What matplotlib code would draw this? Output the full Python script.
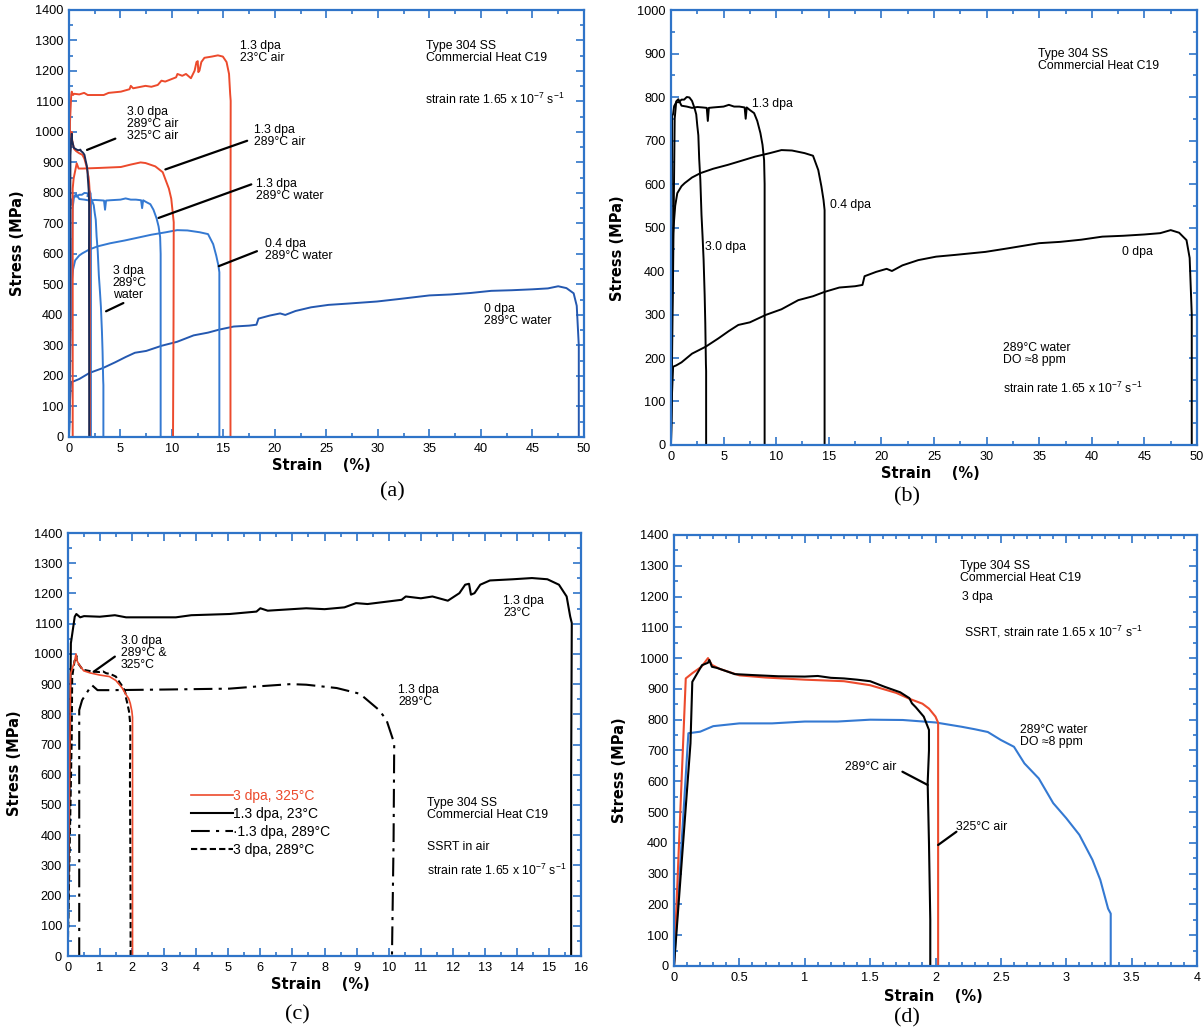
"""Stress-strain curves of irradiated Type 304 SS (heat C19), four panels."""

import matplotlib
matplotlib.use("Agg")
import matplotlib.pyplot as plt
from matplotlib.ticker import FuncFormatter, MultipleLocator

plt.rcParams["font.family"] = ["Liberation Sans", "DejaVu Sans"]

# --- curve data (strain %, stress MPa) -----------------------------------

# 1.3 dpa, 23 C air
strain_13_23c = [0, 0.05, 0.1, 0.22, 0.27, 0.39, 0.51, 1.0, 1.47, 1.82, 2.66,
                 3.37, 3.85, 5.04, 5.88, 6.0, 6.23, 7.43, 8.0, 8.62, 8.98,
                 9.34, 10.4, 10.53, 11.0, 11.36, 11.84, 12.2, 12.38, 12.5,
                 12.56, 12.67, 12.85, 13.15, 13.87, 14.46, 14.94, 15.3,
                 15.54, 15.65, 15.7, 15.68, 15.68]
stress_13_23c = [0, 450, 1035, 1123, 1132, 1121, 1125, 1123, 1128, 1121, 1121,
                 1121, 1128, 1132, 1140, 1151, 1143, 1151, 1148, 1154, 1168,
                 1165, 1179, 1190, 1184, 1190, 1176, 1201, 1229, 1232,
                 1196, 1201, 1229, 1243, 1247, 1251, 1247, 1229,
                 1190, 1124, 1102, 600, 0]

# 1.3 dpa, 289 C air
strain_13_289c_air = [0.36, 0.36, 0.45, 0.75, 0.93, 1.37, 3.0, 5.04, 6.0,
                      6.95, 7.43, 8.38, 9.1, 9.7, 9.93, 10.17, 10.15, 10.1]
stress_13_289c_air = [0, 814, 847, 897, 880, 880, 882, 885, 893,
                      900, 898, 887, 868, 814, 781, 704, 380, 0]

# 3 dpa, 289 C air
strain_3_289c_air = [0, 0.126, 0.14, 0.17, 0.214, 0.26, 0.27, 0.29, 0.33,
                     0.377, 0.465, 0.6, 0.8, 1.0, 1.1, 1.2, 1.3, 1.4, 1.5,
                     1.61, 1.73, 1.8, 1.82, 1.85, 1.91, 1.95, 1.95, 1.94,
                     1.95, 1.96, 1.96]
stress_3_289c_air = [0, 723, 923, 945, 977, 985, 994, 972, 968,
                     961, 948, 945, 941, 940, 942, 936, 934, 930, 925,
                     907, 889, 870, 853, 840, 810, 767, 700, 594,
                     400, 150, 0]

# 3 dpa, 325 C air
strain_3_325c_air = [0, 0.09, 0.14, 0.21, 0.26, 0.29, 0.35, 0.5, 0.7, 1.0,
                     1.3, 1.5, 1.7, 1.8, 1.9, 1.95, 2.0, 2.02, 2.02]
stress_3_325c_air = [0, 934, 951, 972, 1000, 978, 965, 944, 937, 930,
                     925, 912, 887, 868, 852, 836, 810, 790, 0]

# 3 dpa, 289 C water
strain_3_water = [0, 0.11, 0.2, 0.3, 0.5, 0.75, 1.0, 1.25, 1.5, 1.75, 2.0,
                  2.2, 2.3, 2.4, 2.5, 2.6, 2.68, 2.79, 2.9, 3.0, 3.1, 3.2,
                  3.26, 3.32, 3.34, 3.34]
stress_3_water = [0, 756, 761, 779, 788, 788, 794, 794, 800, 799, 791,
                  777, 769, 760, 734, 712, 658, 609, 529, 480, 426, 345,
                  280, 186, 170, 0]
# second short 3 dpa water trace seen only in panel (a)
strain_3_water_b = [1.8, 2.0, 2.1, 2.13, 2.13]
stress_3_water_b = [790, 806, 798, 770, 0]

# 1.3 dpa, 289 C water
strain_13_water = [0, 0.2, 0.35, 0.5, 0.7, 1.0, 1.5, 2.0, 2.5, 3.0, 3.4,
                   3.5, 3.6, 4.0, 5.0, 5.5, 6.0, 6.5, 7.0, 7.1, 7.2, 7.5,
                   7.9, 8.2, 8.5, 8.7, 8.85, 8.9, 8.9]
stress_13_water = [0, 400, 750, 790, 795, 780, 778, 775, 777, 776, 775,
                   745, 775, 776, 778, 782, 778, 778, 776, 750, 776, 770,
                   763, 745, 717, 690, 655, 600, 0]

# 0.4 dpa, 289 C water
strain_04_water = [0, 0.1, 0.2, 0.4, 0.6, 1.0, 1.3, 2.0, 2.8, 4.0, 5.4,
                   6.5, 8.0, 9.4, 10.5, 11.5, 12.7, 13.5, 14.0, 14.3, 14.5,
                   14.6, 14.6]
stress_04_water = [0, 300, 487, 550, 579, 595, 602, 615, 625, 635, 644,
                   652, 663, 671, 678, 677, 671, 665, 632, 594, 563,
                   540, 0]

# 0 dpa, 289 C water
strain_0_water = [0, 0.1, 0.2, 0.5, 1.0, 1.5, 2.0, 3.3, 4.5, 5.5, 6.4, 7.5,
                  9.0, 10.5, 12.1, 13.5, 14.6, 16.0, 17.5, 18.2, 18.4, 19.5,
                  20.5, 21.0, 22.0, 23.5, 25.2, 27.0, 29.9, 32.0, 33.5,
                  35.0, 37.0, 39.0, 41.0, 43.0, 45.0, 46.5, 47.5, 48.3,
                  49.0, 49.3, 49.5, 49.5]
stress_0_water = [0, 120, 180, 183, 190, 200, 210, 226, 245, 262, 276, 282,
                  299, 312, 333, 342, 352, 362, 365, 368, 388, 398,
                  405, 400, 413, 425, 433, 437, 444, 452, 458,
                  464, 467, 472, 479, 481, 484, 487, 494, 488,
                  471, 430, 300, 0]

RATE = "strain rate 1.65 x 10$^{\\mathregular{-7}}$ s$^{\\mathregular{-1}}$"
HEAT = "Type 304 SS\nCommercial Heat C19"

FRAME = "#2f74c8"
RED = "#ec4a2c"
BLUE = "#3479d2"
DARK_BLUE = "#2458b0"
NAVY = "#1c2a55"
TXT = 8.8


def style_axes(ax, xmax, ymax, xmaj, xmin, ymaj=100, ymin=50):
    """Blue frame with inward ticks on all four sides."""
    ax.set_xlim(0, xmax)
    ax.set_ylim(0, ymax)
    ax.xaxis.set_major_locator(MultipleLocator(xmaj))
    ax.xaxis.set_minor_locator(MultipleLocator(xmin))
    ax.yaxis.set_major_locator(MultipleLocator(ymaj))
    ax.yaxis.set_minor_locator(MultipleLocator(ymin))
    ax.xaxis.set_major_formatter(FuncFormatter(lambda v, p: f"{v:g}"))
    for sp in ax.spines.values():
        sp.set_color(FRAME)
        sp.set_linewidth(1.6)
    ax.tick_params(which="both", direction="in", top=True, right=True,
                   color=FRAME, labelcolor="black", width=1.2,
                   labelsize=9.2, pad=4)
    ax.tick_params(which="major", length=6)
    ax.tick_params(which="minor", length=3)
    ax.set_xlabel("Strain    (%)", family="DejaVu Sans", weight="bold",
                  fontsize=10.5)
    ax.set_ylabel("Stress (MPa)", family="DejaVu Sans", weight="bold",
                  fontsize=10.5)


def note(ax, x, y, s, va="top", **kw):
    ax.text(x, y, s, fontsize=TXT, va=va, ha="left", linespacing=1.0, **kw)


def leader(ax, start, end):
    ax.annotate("", xy=end, xytext=start,
                arrowprops=dict(arrowstyle="-", color="black", lw=1.6,
                                shrinkA=0, shrinkB=0))


def panel_a(ax):
    lw = 1.4
    ax.plot(strain_0_water, stress_0_water, color=DARK_BLUE, lw=lw)
    ax.plot(strain_04_water, stress_04_water, color=BLUE, lw=lw)
    ax.plot(strain_13_water, stress_13_water, color=BLUE, lw=lw)
    ax.plot(strain_3_water, stress_3_water, color=BLUE, lw=lw)
    ax.plot(strain_3_water_b, stress_3_water_b, color=BLUE, lw=lw)
    ax.plot(strain_13_23c, stress_13_23c, color=RED, lw=lw)
    ax.plot(strain_13_289c_air, stress_13_289c_air, color=RED, lw=lw)
    ax.plot(strain_3_325c_air, stress_3_325c_air, color=RED, lw=lw)
    ax.plot(strain_3_289c_air, stress_3_289c_air, color=NAVY, lw=lw)
    style_axes(ax, 50, 1400, 5, 2.5)

    note(ax, 16.6, 1300, "1.3 dpa\n23°C air")
    note(ax, 34.7, 1300, HEAT)
    note(ax, 34.6, 1105, RATE, va="center")
    note(ax, 5.65, 1085, "3.0 dpa\n289°C air\n325°C air")
    leader(ax, (4.5, 978), (1.75, 941))
    note(ax, 18.0, 1025, "1.3 dpa\n289°C air")
    leader(ax, (17.3, 971), (9.36, 877))
    note(ax, 18.2, 850, "1.3 dpa\n289°C water")
    leader(ax, (17.7, 828), (8.7, 718))
    note(ax, 19.0, 653, "0.4 dpa\n289°C water")
    leader(ax, (18.25, 609), (14.55, 560))
    note(ax, 4.24, 565, "3 dpa\n289°C\nwater")
    leader(ax, (5.28, 439), (3.6, 412))
    note(ax, 40.3, 439, "0 dpa\n289°C water")

    ax.xaxis.set_label_coords(0.491, -0.049)
    ax.yaxis.set_label_coords(-0.085, 0.454)


def panel_b(ax):
    lw = 1.4
    for xs, ys in [(strain_0_water, stress_0_water),
                   (strain_04_water, stress_04_water),
                   (strain_13_water, stress_13_water),
                   (strain_3_water, stress_3_water)]:
        ax.plot(xs, ys, color="black", lw=lw)
    style_axes(ax, 50, 1000, 5, 2.5)

    note(ax, 34.9, 912, HEAT)
    note(ax, 7.7, 785, "1.3 dpa", va="center")
    note(ax, 15.1, 552, "0.4 dpa", va="center")
    note(ax, 3.2, 456, "3.0 dpa", va="center")
    note(ax, 42.9, 443, "0 dpa", va="center")
    note(ax, 31.6, 236, "289°C water\nDO ≈8 ppm")
    note(ax, 31.6, 130, RATE, va="center")

    ax.xaxis.set_label_coords(0.494, -0.048)
    ax.yaxis.set_label_coords(-0.087, 0.453)


def panel_c(ax):
    lw = 1.5
    ax.plot(strain_13_23c, stress_13_23c, color="black", lw=lw,
            label="1.3 dpa, 23°C")
    ax.plot(strain_13_289c_air, stress_13_289c_air, color="black", lw=lw,
            ls=(0, (9, 3, 1.5, 3)), label="·1.3 dpa, 289°C")
    ax.plot(strain_3_289c_air, stress_3_289c_air, color="black", lw=lw,
            ls=(0, (3, 1.5)), label="3 dpa, 289°C")
    ax.plot(strain_3_325c_air, stress_3_325c_air, color=RED, lw=1.2,
            label="3 dpa, 325°C")
    style_axes(ax, 16, 1400, 1, 0.5)

    handles, labels = ax.get_legend_handles_labels()
    order = [3, 0, 1, 2]
    leg = ax.legend([handles[i] for i in order], [labels[i] for i in order],
                    loc="upper left", bbox_to_anchor=(0.24, 0.396),
                    frameon=False, fontsize=10, handlelength=3.0,
                    handletextpad=0.0, labelspacing=0.3, borderpad=0,
                    borderaxespad=0)
    leg.get_texts()[0].set_color(RED)

    note(ax, 13.57, 1195, "1.3 dpa\n23°C")
    note(ax, 1.65, 1062, "3.0 dpa\n289°C &\n325°C")
    leader(ax, (1.47, 991), (0.81, 941))
    note(ax, 10.29, 902, "1.3 dpa\n289°C")
    note(ax, 11.18, 525, HEAT)
    note(ax, 11.18, 362, "SSRT in air", va="center")
    note(ax, 11.18, 285, RATE, va="center")

    ax.xaxis.set_label_coords(0.492, -0.05)
    ax.yaxis.set_label_coords(-0.089, 0.456)


def panel_d(ax):
    lw = 1.5
    ax.plot(strain_3_water, stress_3_water, color=BLUE, lw=lw)
    ax.plot(strain_3_325c_air, stress_3_325c_air, color=RED, lw=lw)
    ax.plot(strain_3_289c_air, stress_3_289c_air, color="black", lw=lw)
    style_axes(ax, 4, 1400, 0.5, 0.1)

    note(ax, 2.19, 1320, HEAT)
    note(ax, 2.2, 1197, "3 dpa", va="center")
    note(ax, 2.22, 1086, "SSRT, " + RATE, va="center")
    note(ax, 2.65, 785, "289°C water\nDO ≈8 ppm")
    note(ax, 1.31, 647, "289°C air", va="center")
    leader(ax, (1.747, 631), (1.94, 588))
    note(ax, 2.16, 452, "325°C air", va="center")
    leader(ax, (2.16, 436), (2.02, 393))

    ax.xaxis.set_label_coords(0.495, -0.053)
    ax.yaxis.set_label_coords(-0.09, 0.455)


def run() -> None:
    fig = plt.figure(figsize=(12.04, 10.32), dpi=100)
    ax_a = fig.add_axes([0.0573, 0.5766, 0.4277, 0.4138])
    ax_b = fig.add_axes([0.5573, 0.5688, 0.4369, 0.4215])
    ax_c = fig.add_axes([0.0562, 0.0736, 0.4267, 0.4099])
    ax_d = fig.add_axes([0.5598, 0.0640, 0.4344, 0.4176])

    panel_a(ax_a)
    panel_b(ax_b)
    panel_c(ax_c)
    panel_d(ax_d)

    serif = ["Liberation Serif", "DejaVu Serif"]
    for lab, x, y in [("(a)", 392, 492), ("(b)", 907, 497),
                      ("(c)", 297, 1015), ("(d)", 907, 1018)]:
        fig.text(x / 1204, 1 - y / 1032, lab, family=serif, fontsize=16,
                 ha="center", va="center")

    fig.savefig("out.png", dpi=100)
    plt.close(fig)


if __name__ == "__main__":
    run()
